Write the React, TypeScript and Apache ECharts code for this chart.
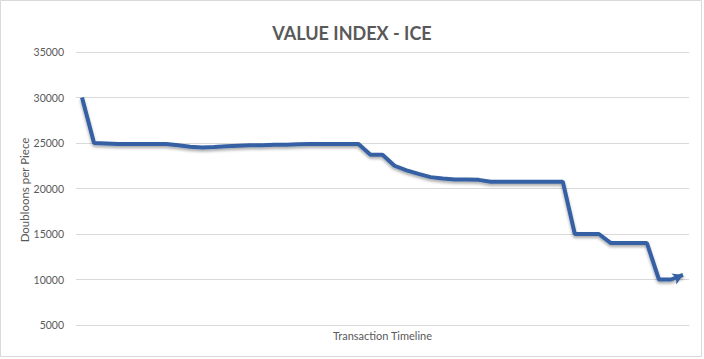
import React, { useEffect, useRef } from "react";
import * as echarts from "echarts";

const titleText = "VALUE INDEX - ICE";
const yAxisName = "Doubloons per Piece";
const xAxisName = "Transaction Timeline";
const yTicks = { min: 5000, max: 35000, interval: 5000 };

const values: number[] = [
  30000, 25000, 24950, 24900, 24900, 24900, 24900, 24900, 24750, 24600,
  24500, 24550, 24650, 24700, 24750, 24750, 24800, 24800, 24850, 24900,
  24900, 24900, 24900, 24900, 23700, 23700, 22500, 22000, 21600, 21250,
  21100, 21000, 21000, 20950, 20750, 20750, 20750, 20750, 20750, 20750,
  20750, 15000, 15000, 15000, 14000, 14000, 14000, 14000, 10000, 10000,
  10500,
];
const categories: string[] = values.map((_, i) => String(i + 1));

export default function App() {
  const ref = useRef<HTMLDivElement>(null);
  useEffect(() => {
    if (!ref.current) return;
    const chart = echarts.init(ref.current, undefined, { renderer: "svg" });
    const lineColor = "#3560A3";
    const data = values.map((v, i) =>
      i === values.length - 1
        ? { value: v, symbol: "arrow", symbolSize: [9, 10], symbolRotate: -66, symbolOffset: [0, 0], itemStyle: { color: lineColor } }
        : { value: v }
    );
    chart.setOption({
      animation: false,
      backgroundColor: "#ffffff",
      textStyle: { fontFamily: "Lato" },
      title: {
        text: titleText,
        left: "center",
        top: 19,
        textStyle: { fontFamily: "Lato", fontSize: 18, fontWeight: "bold", color: "#595959" },
      },
      graphic: [
        {
          type: "rect",
          shape: { x: 0.5, y: 0.5, width: 701, height: 356 },
          style: { fill: "none", stroke: "#d9d9d9", lineWidth: 1 },
          silent: true,
        },
        {
          type: "text",
          x: 24.5,
          y: 190,
          rotation: Math.PI / 2,
          silent: true,
          style: {
            text: yAxisName,
            fontFamily: "Lato",
            fontSize: 11.5,
            fill: "#595959",
            textAlign: "center",
            textVerticalAlign: "middle",
          },
        },
      ],
      grid: { left: 76, right: 15, top: 52, bottom: 34 },
      xAxis: {
        type: "category",
        data: categories,
        boundaryGap: true,
        axisLine: { show: true, lineStyle: { color: "#d9d9d9" } },
        axisTick: { show: false },
        axisLabel: { show: false },
        name: xAxisName,
        nameLocation: "middle",
        nameGap: 5,
        nameTextStyle: { fontFamily: "Lato", fontSize: 11, color: "#595959" },
      },
      yAxis: {
        type: "value",
        min: yTicks.min,
        max: yTicks.max,
        interval: yTicks.interval,
        axisLine: { show: false },
        axisTick: { show: false },
        splitLine: { lineStyle: { color: "#d9d9d9" } },
        axisLabel: { fontFamily: "Lato", fontSize: 10.5, color: "#595959", margin: 12, formatter: (v: number) => String(v) },
      },
      series: [
        {
          type: "line",
          data,
          symbol: "circle",
          symbolSize: 0,
          showSymbol: true,
          showAllSymbol: true,
          lineStyle: {
            color: lineColor,
            width: 4,
            shadowColor: "rgba(0,0,0,0.35)",
            shadowBlur: 3,
            shadowOffsetY: 2,
          },
          itemStyle: { color: lineColor },
        },
      ],
    });
    return () => chart.dispose();
  }, []);
  return (
    <div
      ref={ref}
      style={{ position: "fixed", left: 0, top: 0, width: 704, height: 359 }}
    />
  );
}
